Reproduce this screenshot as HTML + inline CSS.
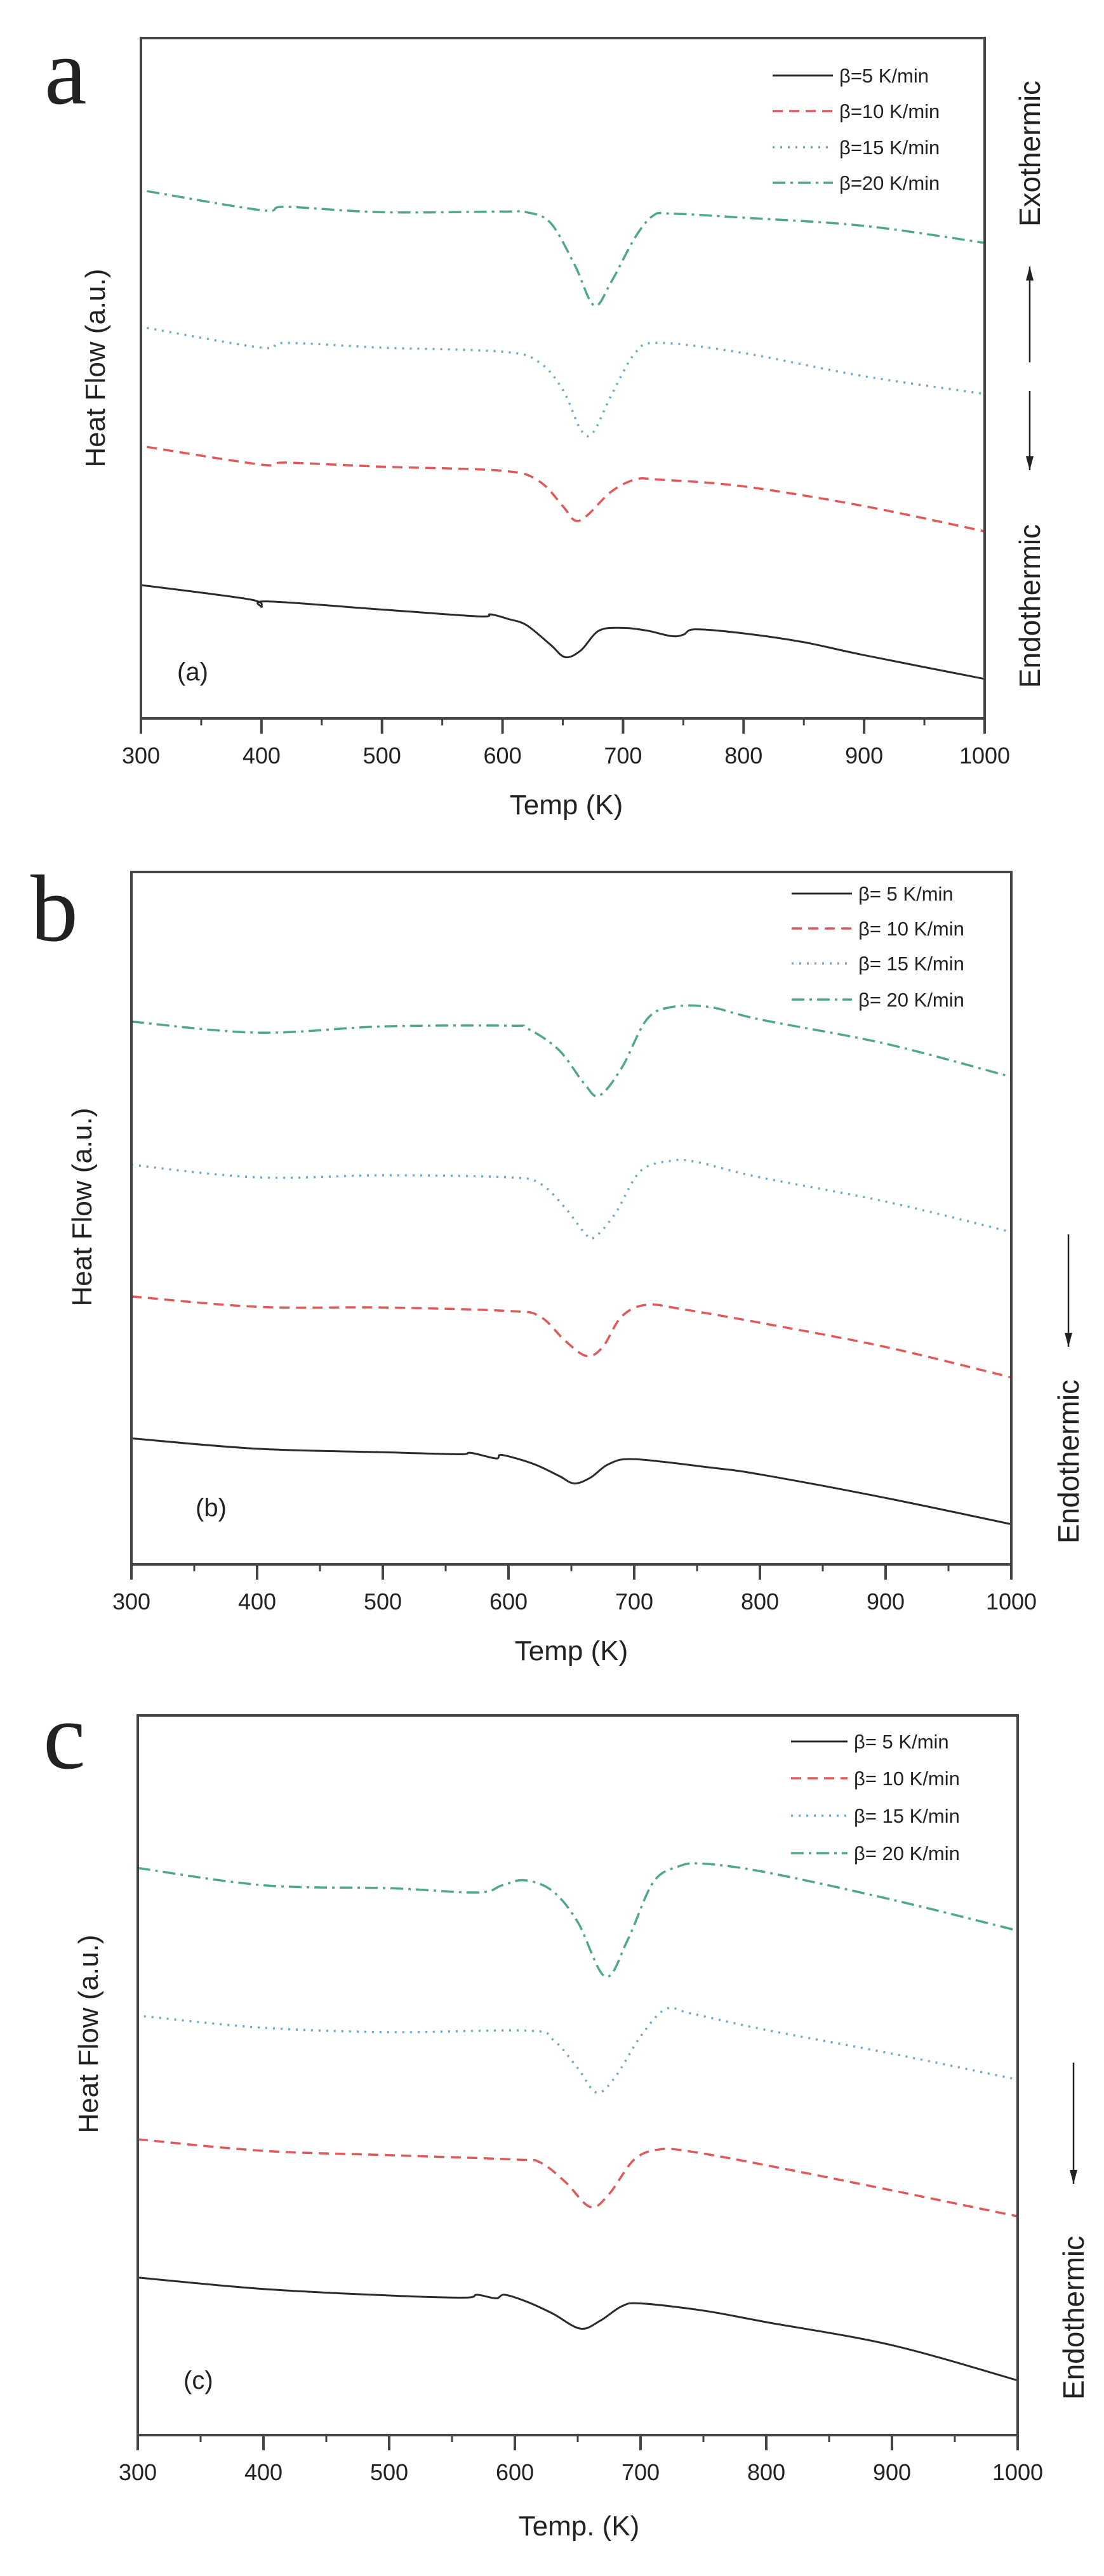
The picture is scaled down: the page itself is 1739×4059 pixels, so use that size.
<!DOCTYPE html>
<html><head><meta charset="utf-8">
<style>
html,body{margin:0;padding:0;background:#fff;}
svg{display:block;}
text{font-family:"Liberation Sans",Arial,sans-serif;fill:#222;}
</style></head>
<body>
<svg id="fig" width="1739" height="4059" viewBox="0 0 1739 4059" xmlns="http://www.w3.org/2000/svg"></svg>
<script>
// ---- shared axis data ----
const xTicks = [300,400,500,600,700,800,900,1000];
const xMinor = [350,450,550,650,750,850,950];
const seriesLabelsA = ["β=5 K/min","β=10 K/min","β=15 K/min","β=20 K/min"];
const seriesLabelsBC = ["β= 5 K/min","β= 10 K/min","β= 15 K/min","β= 20 K/min"];

// ---- panel a data (temperature K, heat flow a.u.) ----
const aT5 = [300,390,400,405,500,580,590,605,620,640,652,665,680,700,720,740,750,760,800,850,900,1000];
const aV5 = [19.6,17.5,16.4,17.2,16.0,15.0,15.3,14.6,13.7,10.8,9.0,10.0,12.9,13.3,12.9,12.1,12.3,13.1,12.5,11.2,9.3,5.8];
const aT10 = [305,400,420,500,600,630,650,660,670,690,710,730,800,900,1000];
const aV10 = [39.9,37.3,37.6,37.0,36.4,34.9,31.2,29.1,29.8,33.3,35.1,35.1,34.1,31.2,27.5];
const aT15 = [305,400,420,500,600,630,650,665,675,690,710,730,800,900,1000];
const aV15 = [57.4,54.5,55.2,54.5,53.9,52.4,48.3,42.4,42.0,47.4,53.7,55.2,53.7,50.3,47.7];
const aT20 = [305,400,420,500,600,620,640,660,676,690,710,725,740,800,900,1000];
const aV20 = [77.5,74.7,75.2,74.4,74.5,74.4,72.8,66.6,60.7,64.1,70.7,73.9,74.2,73.6,72.4,69.9];

// ---- panel b data ----
const bT5 = [300,400,500,560,570,590,595,620,640,652,665,680,700,760,800,900,1000];
const bV5 = [18.2,16.7,16.2,15.9,16.1,15.3,15.8,14.5,12.8,11.7,12.5,14.5,15.2,14.0,13.0,9.6,5.8];
const bT10 = [300,400,500,600,625,645,662,675,690,710,740,800,900,1000];
const bV10 = [38.7,37.2,37.1,36.6,35.8,32.3,30.1,31.4,35.8,37.5,36.8,34.9,31.4,27.0];
const bT15 = [300,400,500,600,625,645,660,668,685,705,730,750,800,900,1000];
const bV15 = [57.7,55.9,56.2,55.9,55.0,51.5,48.0,47.2,50.7,56.8,58.3,58.1,55.9,52.4,48.0];
const bT20 = [300,400,500,600,615,640,660,672,690,710,730,760,800,900,1000];
const bV20 = [78.4,76.8,77.7,77.8,77.4,74.3,69.5,67.7,71.7,78.7,80.5,80.5,78.7,75.2,70.4];

// ---- panel c data ----
const cT5 = [300,400,500,560,570,585,592,610,630,652,668,685,700,750,800,900,1000];
const cV5 = [21.9,20.3,19.4,19.1,19.5,19.0,19.5,18.5,16.9,14.8,15.9,17.9,18.3,17.3,15.7,12.5,7.6];
const cT10 = [300,400,500,600,620,640,660,675,695,715,740,800,900,1000];
const cV10 = [41.1,39.5,38.9,38.3,37.9,35.2,31.7,33.5,38.3,39.7,39.4,37.5,34.0,30.4];
const cT15 = [305,400,500,610,630,650,665,680,700,720,740,800,900,1000];
const cV15 = [58.2,56.6,56.0,56.2,55.0,51.0,47.6,49.8,55.4,59.2,58.6,56.3,53.0,49.4];
const cT20 = [300,400,500,570,590,608,630,650,672,690,710,730,750,800,900,1000];
const cV20 = [78.8,76.4,76.0,75.4,76.4,77.1,75.6,71.3,63.7,68.9,76.8,79.0,79.4,78.2,74.4,70.1];

const NS = "http://www.w3.org/2000/svg";
const svg = document.getElementById('fig');
function mk(tag, attrs, parent){
  const e = document.createElementNS(NS, tag);
  for (const k in attrs) e.setAttribute(k, attrs[k]);
  (parent||svg).appendChild(e);
  return e;
}
const styles = [
  {stroke:"#2b2b2b", dash:"", w:3},
  {stroke:"#e0585a", dash:"16 10", w:3.5},
  {stroke:"#6fa7c4", dash:"3 9", w:3.5},
  {stroke:"#4fa88e", dash:"20 8 4 8", w:3.5}
];
const seriesNames = ["series-5kmin","series-10kmin","series-15kmin","series-20kmin"];

function smoothPath(pts){
  let d = "M"+pts[0][0].toFixed(1)+","+pts[0][1].toFixed(1);
  for (let i=0;i<pts.length-1;i++){
    const p0=pts[Math.max(0,i-1)], p1=pts[i], p2=pts[i+1], p3=pts[Math.min(pts.length-1,i+2)];
    const c1x=p1[0]+(p2[0]-p0[0])/6, c1y=p1[1]+(p2[1]-p0[1])/6;
    const c2x=p2[0]-(p3[0]-p1[0])/6, c2y=p2[1]-(p3[1]-p1[1])/6;
    d += " C"+c1x.toFixed(1)+","+c1y.toFixed(1)+" "+c2x.toFixed(1)+","+c2y.toFixed(1)+" "+p2[0].toFixed(1)+","+p2[1].toFixed(1);
  }
  return d;
}

function panel(cfg){
  const g = mk('g', {});
  
  
  const L=cfg.L, R=cfg.R, T=cfg.T, B=cfg.B;
  const xs = t => L + (t-300)/700*(R-L);
  const ys = v => B - v/100*(B-T);

  // series
  cfg.series.forEach((s,i)=>{
    const pts = s.t.map((t,k)=>[xs(t), ys(s.v[k])]);
    const st = styles[i];
    const p = mk('path', {d:smoothPath(pts), fill:"none", stroke:st.stroke, "stroke-width":st.w, "stroke-dasharray":st.dash, "stroke-linecap":"butt"}, g);
    
    
  });

  // frame
  const fr = mk('rect', {x:L, y:T, width:R-L, height:B-T, fill:"none", stroke:"#444", "stroke-width":4}, g);
  
  

  // ticks
  xTicks.forEach(t=>{
    const x = xs(t);
    const tk = mk('line', {x1:x, x2:x, y1:B, y2:B+24, stroke:"#444", "stroke-width":4}, g);
    
    
    const lb = mk('text', {x:x, y:B+71, "font-size":36, "text-anchor":"middle"}, g);
    lb.textContent = t;
    
    
  });
  xMinor.forEach(t=>{
    const x = xs(t);
    const tk = mk('line', {x1:x, x2:x, y1:B, y2:B+11, stroke:"#444", "stroke-width":3}, g);
    
    
  });

  // axis titles
  const xt = mk('text', {x:cfg.xtX, y:cfg.xtY, "font-size":44, "text-anchor":"middle"}, g);
  xt.textContent = cfg.xTitle;
  
  
  const yt = mk('text', {x:0, y:0, "font-size":44, "text-anchor":"middle", transform:"translate("+(cfg.ytX+15)+","+cfg.ytY+") rotate(-90)"}, g);
  yt.textContent = "Heat Flow (a.u.)";
  
  

  // legend
  cfg.legendY.forEach((y,i)=>{
    const st = styles[i];
    const ln = mk('line', {x1:cfg.legX1, x2:cfg.legX2, y1:y, y2:y, stroke:st.stroke, "stroke-width":st.w, "stroke-dasharray":st.dash}, g);
    
    
    const tx = mk('text', {x:cfg.legX2+10, y:y+11, "font-size":31}, g);
    tx.textContent = cfg.labels[i];
    
    
  });

  // panel letter
  const pl = mk('text', {x:cfg.letX, y:cfg.letY, "font-size":150, style:'font-family:"Liberation Serif",serif'}, g);
  pl.textContent = cfg.id;
  
  
  const il = mk('text', {x:cfg.inX, y:cfg.inY+14, "font-size":40}, g);
  il.textContent = "("+cfg.id+")";
  
  

  // annotations
  cfg.annots.forEach(a=>{
    if (a.type==='text'){
      const t = mk('text', {x:0, y:0, "font-size":46, "text-anchor":"middle", transform:"translate("+(a.x+16)+","+a.y+") rotate(-90)"}, g);
      t.textContent = a.s;
      
      
    } else {
      const ln = mk('line', {x1:a.x, x2:a.x, y1:a.y1, y2:a.y2, stroke:"#222", "stroke-width":2.5}, g);
      
      
      const tip = a.y2, dir = a.y2 > a.y1 ? -1 : 1;
      const hd = mk('polygon', {points:(a.x-6)+","+(tip+dir*22)+" "+(a.x+6)+","+(tip+dir*22)+" "+a.x+","+tip, fill:"#222"}, g);
      
      
    }
  });
}

panel({id:"a", L:222, R:1551, T:60, B:1132,
  series:[{t:aT5,v:aV5},{t:aT10,v:aV10},{t:aT15,v:aV15},{t:aT20,v:aV20}],
  xTitle:"Temp (K)", xtX:892, xtY:1283, ytX:150, ytY:580,
  legendY:[119,175,232,288], legX1:1217, legX2:1312, labels:seriesLabelsA,
  letX:70, letY:163, inX:279, inY:1058,
  annots:[{type:'text',s:'Exothermic',x:1622,y:242},{type:'arrow',x:1622,y1:571,y2:420},
          {type:'arrow',x:1622,y1:616,y2:741},{type:'text',s:'Endothermic',x:1622,y:955}]});

panel({id:"b", L:207, R:1593, T:1374, B:2465,
  series:[{t:bT5,v:bV5},{t:bT10,v:bV10},{t:bT15,v:bV15},{t:bT20,v:bV20}],
  xTitle:"Temp (K)", xtX:900, xtY:2616, ytX:129, ytY:1902,
  legendY:[1408,1463,1518,1575], legX1:1247, legX2:1342, labels:seriesLabelsBC,
  letX:48, letY:1482, inX:308, inY:2375,
  annots:[{type:'arrow',x:1683,y1:1945,y2:2122},{type:'text',s:'Endothermic',x:1683,y:2303}]});

panel({id:"c", L:217, R:1603, T:2703, B:3837,
  series:[{t:cT5,v:cV5},{t:cT10,v:cV10},{t:cT15,v:cV15},{t:cT20,v:cV20}],
  xTitle:"Temp. (K)", xtX:912, xtY:3995, ytX:139, ytY:3205,
  legendY:[2744,2802,2861,2920], legX1:1246, legX2:1335, labels:seriesLabelsBC,
  letX:68, letY:2786, inX:289, inY:3750,
  annots:[{type:'arrow',x:1691,y1:3250,y2:3441},{type:'text',s:'Endothermic',x:1691,y:3652}]});
</script>
</body></html>
